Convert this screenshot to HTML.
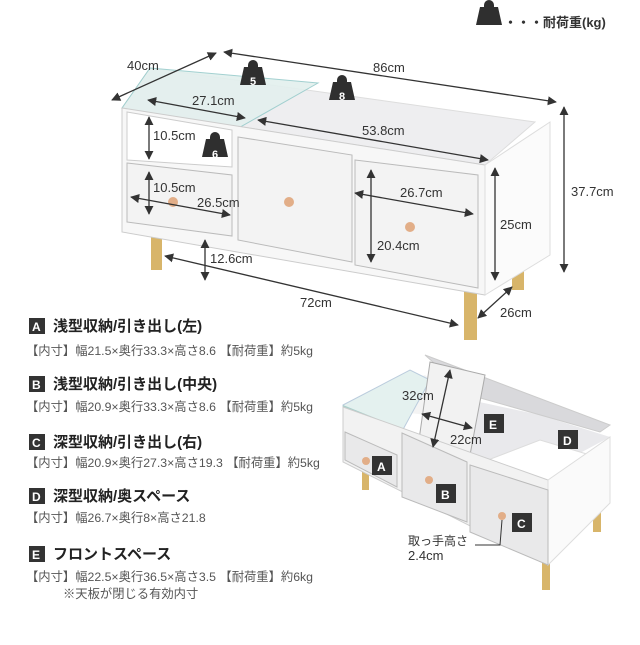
<!DOCTYPE html>
<html><head><meta charset="utf-8"><style>
body{margin:0;background:#fff;width:640px;height:640px;overflow:hidden;font-family:"Liberation Sans","Noto Sans CJK JP",sans-serif;}
svg text{font-family:"Liberation Sans","Noto Sans CJK JP",sans-serif;}
</style></head><body>
<svg width="640" height="640" viewBox="0 0 640 640" xmlns="http://www.w3.org/2000/svg">
<defs>
<marker id="a" viewBox="0 0 10 10" refX="9" refY="5" markerWidth="7" markerHeight="7" orient="auto-start-reverse"><path d="M0,0L10,5L0,10z" fill="#333"/></marker>
<g id="kb"><path d="M-5,-10a5,5 0 0 1 10,0v2h4l4,18h-26l4,-18h4z" fill="#2f2f2f"/></g>
</defs>
<use href="#kb" x="489" y="15"/>
<text x="504" y="27" font-size="13" fill="#333" font-weight="bold">・・・耐荷重(kg)</text>

<!-- TABLE 1 -->
<rect x="151" y="226" width="11" height="44" fill="#d8b56a"/>
<rect x="512" y="255" width="12" height="35" fill="#d8b56a"/>
<rect x="464" y="290" width="13" height="50" fill="#d8b56a"/>
<polygon points="150,68 535,122 485,165 122,108" fill="#eeeef0" stroke="#ddd"/>
<polygon points="150,68 318,83 235,130 122,108" fill="#e3f0ee" stroke="#9cc" opacity="0.9"/>
<polygon points="122,108 485,165 485,295 122,232" fill="#f7f7f7" stroke="#ccc"/>
<polygon points="485,165 550,122 550,255 485,295" fill="#fbfbfb" stroke="#ddd"/>
<polygon points="127,112 232,130 232,167 127,160" fill="#fff" stroke="#ccc"/>
<polygon points="127,163 232,175 232,236 127,222" fill="#f3f3f3" stroke="#bbb"/>
<polygon points="238,137 352,155 352,262 238,240" fill="#f3f3f3" stroke="#bbb"/>
<polygon points="355,160 478,175 478,288 355,265" fill="#f3f3f3" stroke="#bbb"/>
<circle cx="173" cy="202" r="5" fill="#e2ae88"/>
<circle cx="289" cy="202" r="5" fill="#e2ae88"/>
<circle cx="410" cy="227" r="5" fill="#e2ae88"/>
<g stroke="#333" stroke-width="1.3" fill="none" marker-start="url(#a)" marker-end="url(#a)">
<line x1="112" y1="100" x2="216" y2="53"/>
<line x1="224" y1="52" x2="556" y2="102"/>
<line x1="564" y1="107" x2="564" y2="272"/>
<line x1="148" y1="100" x2="245" y2="118"/>
<line x1="258" y1="120" x2="488" y2="160"/>
<line x1="149" y1="117" x2="149" y2="159"/>
<line x1="149" y1="172" x2="149" y2="214"/>
<line x1="131" y1="197" x2="230" y2="215"/>
<line x1="355" y1="193" x2="473" y2="214"/>
<line x1="371" y1="170" x2="371" y2="262"/>
<line x1="495" y1="168" x2="495" y2="280"/>
<line x1="205" y1="240" x2="205" y2="280"/>
<line x1="165" y1="256" x2="458" y2="325"/>
<line x1="478" y1="318" x2="512" y2="287"/>
</g>
<g font-size="13" fill="#333">
<text x="127" y="70">40cm</text>
<text x="373" y="72">86cm</text>
<text x="571" y="196">37.7cm</text>
<text x="192" y="105">27.1cm</text>
<text x="362" y="135">53.8cm</text>
<text x="153" y="140">10.5cm</text>
<text x="153" y="192">10.5cm</text>
<text x="197" y="207">26.5cm</text>
<text x="400" y="197">26.7cm</text>
<text x="377" y="250">20.4cm</text>
<text x="500" y="229">25cm</text>
<text x="210" y="263">12.6cm</text>
<text x="300" y="307">72cm</text>
<text x="500" y="317">26cm</text>
</g>
<g fill="#fff" font-size="11" font-weight="bold">
<use href="#kb" x="253" y="75"/><text x="250" y="85">5</text>
<use href="#kb" x="342" y="90"/><text x="339" y="100">8</text>
<use href="#kb" x="215" y="147"/><text x="212" y="158">6</text>
</g>

<!-- left list -->
<g font-size="15" font-weight="bold" fill="#222">
<rect x="29" y="318" width="16" height="16" fill="#333"/><text x="32" y="331" fill="#fff" font-size="12">A</text>
<text x="53" y="331">浅型収納/引き出し(左)</text>
<rect x="29" y="376" width="16" height="16" fill="#333"/><text x="32" y="389" fill="#fff" font-size="12">B</text>
<text x="53" y="389">浅型収納/引き出し(中央)</text>
<rect x="29" y="434" width="16" height="16" fill="#333"/><text x="32" y="447" fill="#fff" font-size="12">C</text>
<text x="53" y="447">深型収納/引き出し(右)</text>
<rect x="29" y="488" width="16" height="16" fill="#333"/><text x="32" y="501" fill="#fff" font-size="12">D</text>
<text x="53" y="501">深型収納/奥スペース</text>
<rect x="29" y="546" width="16" height="16" fill="#333"/><text x="32" y="559" fill="#fff" font-size="12">E</text>
<text x="53" y="559">フロントスペース</text>
</g>
<g font-size="12.3" fill="#555">
<text x="26" y="355">【内寸】幅21.5×奥行33.3×高さ8.6 【耐荷重】約5kg</text>
<text x="26" y="411">【内寸】幅20.9×奥行33.3×高さ8.6 【耐荷重】約5kg</text>
<text x="26" y="467">【内寸】幅20.9×奥行27.3×高さ19.3 【耐荷重】約5kg</text>
<text x="26" y="522">【内寸】幅26.7×奥行8×高さ21.8</text>
<text x="26" y="581">【内寸】幅22.5×奥行36.5×高さ3.5 【耐荷重】約6kg</text>
<text x="63" y="598">※天板が閉じる有効内寸</text>
</g>

<!-- TABLE 2 -->
<rect x="362" y="470" width="7" height="20" fill="#d8b56a"/>
<rect x="593" y="510" width="8" height="22" fill="#d8b56a"/>
<rect x="542" y="560" width="8" height="30" fill="#d8b56a"/>
<polygon points="343,405 425,375 548,470 610,437" fill="#f4f4f4"/>
<polygon points="343,405 410,370 430,380 400,435 343,415" fill="#e4f1ef" stroke="#bcd"/>
<polygon points="470,400 540,415 610,437 548,470 470,460" fill="#e9e9ec"/>
<polygon points="425,355 610,425 600,432 470,395" fill="#d9d9dc" stroke="#ccc"/>
<polygon points="488,460 540,440 590,455 548,490" fill="#fff" stroke="#ddd"/>
<polygon points="430,362 485,375 470,455 418,447" fill="#f2f2f2" stroke="#aaa"/>
<polygon points="343,405 405,430 405,435 343,415" fill="#aacfcb"/>
<polygon points="343,407 548,480 548,565 343,462" fill="#f2f2f2" stroke="#ccc"/>
<polygon points="548,480 610,437 610,503 548,565" fill="#fafafa" stroke="#ddd"/>
<polygon points="345,432 397,455 397,487 345,460" fill="#e9e9ea" stroke="#bbb"/>
<polygon points="402,433 467,462 467,522 402,497" fill="#e9e9ea" stroke="#bbb"/>
<polygon points="470,465 548,490 548,565 470,532" fill="#e9e9ea" stroke="#bbb"/>
<circle cx="366" cy="461" r="4" fill="#e2ae88"/>
<circle cx="429" cy="480" r="4" fill="#e2ae88"/>
<circle cx="502" cy="516" r="4" fill="#e2ae88"/>
<g stroke="#333" stroke-width="1.3" fill="none" marker-start="url(#a)" marker-end="url(#a)">
<line x1="450" y1="370" x2="433" y2="447"/>
<line x1="422" y1="414" x2="472" y2="428"/>
</g>
<polyline points="475,545 500,545 502,520" stroke="#333" fill="none"/>
<g font-size="13" fill="#333">
<text x="402" y="400">32cm</text>
<text x="450" y="444">22cm</text>
<text x="408" y="545" font-size="12">取っ手高さ</text>
<text x="408" y="560">2.4cm</text>
</g>
<g font-size="12" font-weight="bold" fill="#fff">
<rect x="484" y="414" width="20" height="19" fill="#333"/><text x="489" y="429">E</text>
<rect x="558" y="430" width="20" height="19" fill="#333"/><text x="563" y="445">D</text>
<rect x="372" y="456" width="20" height="19" fill="#333"/><text x="377" y="471">A</text>
<rect x="436" y="484" width="20" height="19" fill="#333"/><text x="441" y="499">B</text>
<rect x="512" y="513" width="20" height="19" fill="#333"/><text x="517" y="528">C</text>
</g>
</svg>
</body></html>
